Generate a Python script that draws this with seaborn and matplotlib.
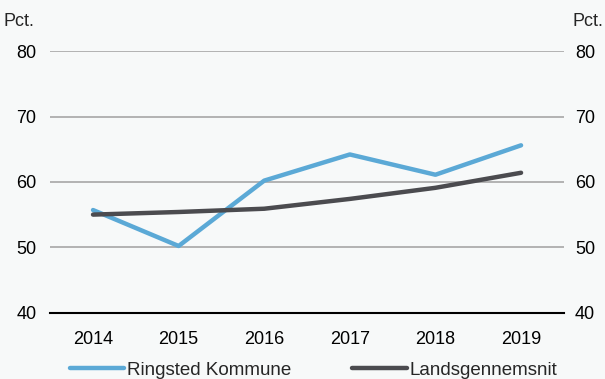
import numpy as np
import pandas as pd
import seaborn as sns
import matplotlib.pyplot as plt
from matplotlib.ticker import FixedLocator

# Data
years = ['2014', '2015', '2016', '2017', '2018', '2019']
ringsted = [55.7, 50.2, 60.2, 64.2, 61.1, 65.6]
landsgennemsnit = [55.0, 55.4, 55.9, 57.4, 59.1, 61.4]
series_names = ['Ringsted Kommune', 'Landsgennemsnit']
y_ticks = [40, 50, 60, 70, 80]

df = pd.DataFrame({
    'year': years * 2,
    'value': ringsted + landsgennemsnit,
    'series': [series_names[0]] * len(years) + [series_names[1]] * len(years),
})

bg = '#f7f9f9'
sns.set_style('white')
plt.rcParams['font.family'] = ['Liberation Sans', 'DejaVu Sans']
fs = 13

fig, ax = plt.subplots(figsize=(6.05, 3.79), dpi=100)
fig.patch.set_facecolor(bg)
ax.set_facecolor(bg)

palette = {series_names[0]: '#5ba9d6', series_names[1]: '#4b4b4f'}
sns.lineplot(data=df, x='year', y='value', hue='series', palette=palette,
             linewidth=3.2, ax=ax, sort=False, legend=True)
for ln in ax.get_lines():
    ln.set_solid_capstyle('round')

ax.set_xlim(-0.5, len(years) - 0.5)
ax.set_ylim(40, 80)
ax.set_yticks(y_ticks)
ax.set_xlabel('')
ax.set_ylabel('')

# gridlines (not at 40)
for v in y_ticks[1:]:
    ax.axhline(v, color='#a0a0a0', linewidth=1.1, zorder=0)

for s in ['top', 'left', 'right']:
    ax.spines[s].set_visible(False)
ax.spines['bottom'].set_color('black')
ax.spines['bottom'].set_linewidth(1.5)

ax.tick_params(axis='x', which='major', length=0, labelsize=fs, pad=13, colors='black')
ax.xaxis.set_minor_locator(FixedLocator(np.arange(-0.5, len(years), 1.0)))
ax.tick_params(axis='x', which='minor', length=5, width=1.3, direction='out', color='black')
ax.tick_params(axis='y', length=0, labelsize=fs, pad=10, colors='black')

ax2 = ax.twinx()
ax2.set_ylim(40, 80)
ax2.set_yticks(y_ticks)
for s in ['top', 'left', 'right', 'bottom']:
    ax2.spines[s].set_visible(False)
ax2.tick_params(axis='y', length=0, labelsize=fs, pad=8, colors='black')

fig.text(0.005, 0.92, 'Pct.', fontsize=fs, ha='left', va='bottom')
fig.text(0.998, 0.92, 'Pct.', fontsize=fs, ha='right', va='bottom')

handles, labels = ax.get_legend_handles_labels()
ax.legend(handles, labels, loc='upper center', bbox_to_anchor=(0.513, -0.145),
          ncol=2, frameon=False, fontsize=13.5, handlelength=2.9, handletextpad=0.15,
          columnspacing=3.25, borderaxespad=0.2)

plt.subplots_adjust(left=0.083, right=0.932, top=0.865, bottom=0.175)
plt.savefig('out.png', dpi=100, facecolor=bg)
